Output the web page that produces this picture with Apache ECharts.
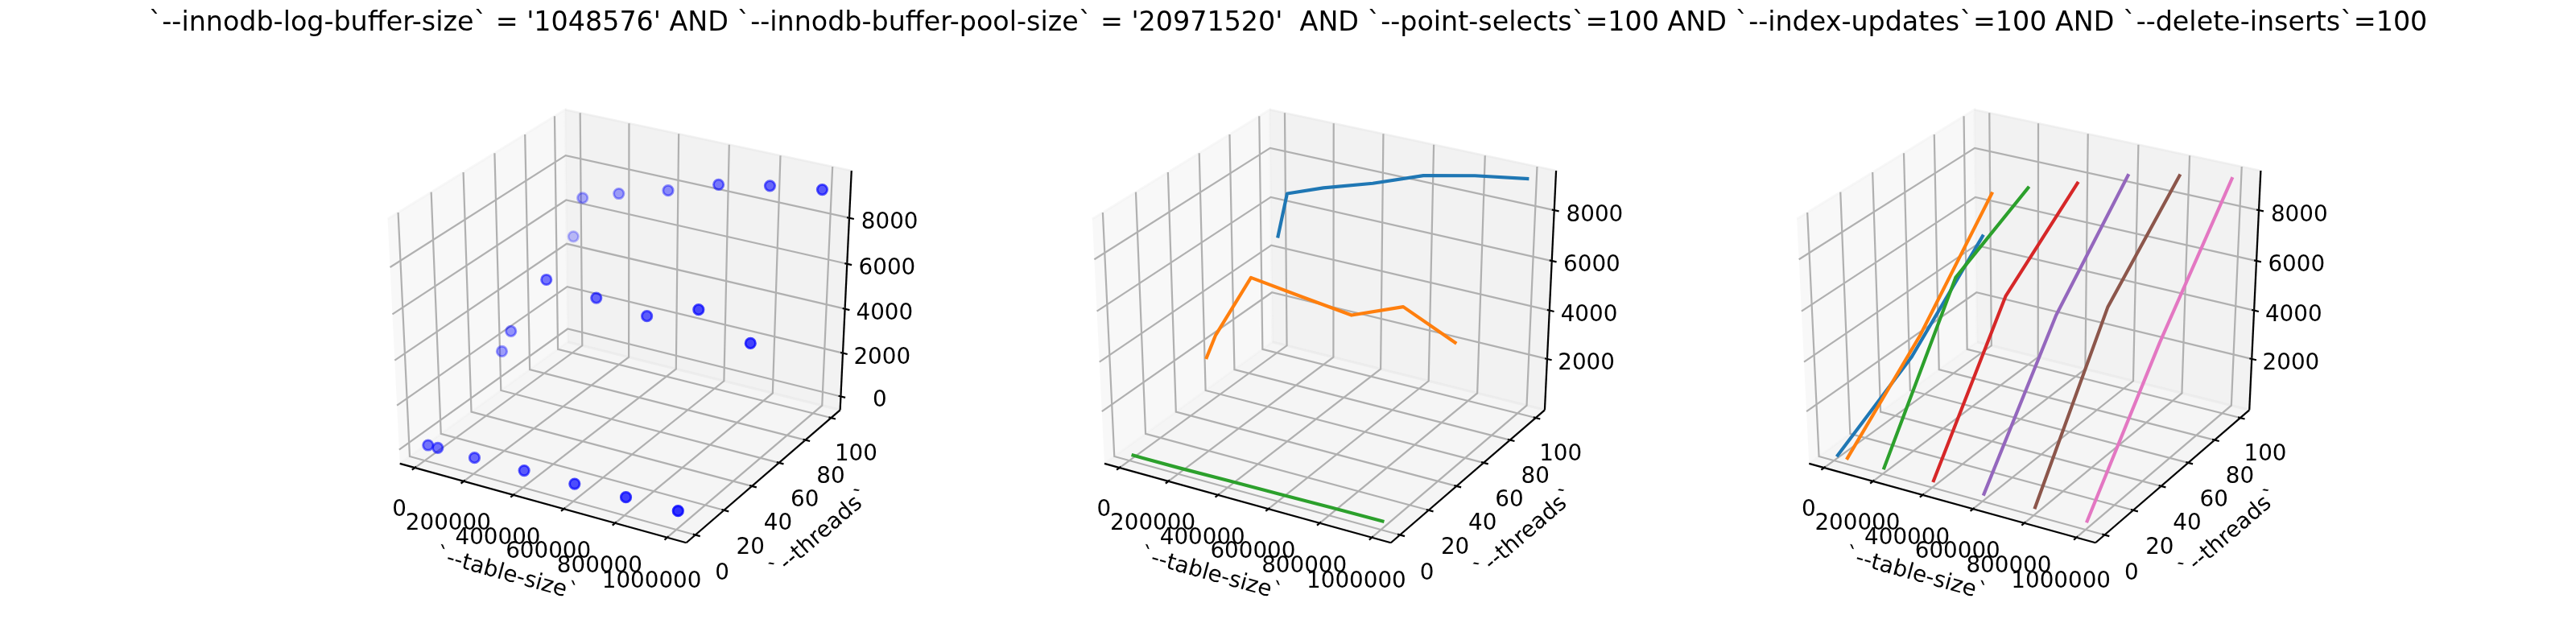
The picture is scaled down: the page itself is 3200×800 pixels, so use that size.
<!DOCTYPE html>
<html>
<head>
<meta charset="utf-8">
<title>sysbench 3d</title>
<script src="https://cdn.jsdelivr.net/npm/echarts@6/dist/echarts.min.js"></script>
<style>
  html, body { margin: 0; padding: 0; background: #ffffff; }
  #chart { width: 3200px; height: 800px; }
</style>
</head>
<body>
<div id="chart"></div>
<script>
// ---- data ----
var tableSizes = [10000, 50000, 200000, 400000, 600000, 800000, 1000000];
var threadCounts = [100, 50, 1];
var zAt100Threads = [4830, 6670, 7230, 7850, 8590, 9020, 9340];
var zAt50Threads = [1880, 2910, 5610, 5340, 5080, 5900, 4990];
var zAt1Thread = [50, 45, 50, 85, 105, 130, 150];
var zRows = [zAt100Threads, zAt50Threads, zAt1Thread];

var tableTicks = [0, 200000, 400000, 600000, 800000, 1000000];
var threadTicks = [0, 20, 40, 60, 80, 100];
var zTicks = [0, 2000, 4000, 6000, 8000];

var lineColors = ['#1f77b4', '#ff7f0e', '#2ca02c', '#d62728', '#9467bd', '#8c564b', '#e377c2'];
var suptitle = "`--innodb-log-buffer-size` = '1048576' AND `--innodb-buffer-pool-size` = '20971520'  AND `--point-selects`=100 AND `--index-updates`=100 AND `--delete-inserts`=100";

// ---- figure layout (16x4 in at 200 dpi, 1x3 subplots) ----
var PT = 200 / 72;
var FS = 10 * PT;
var FONT = FS + 'px "DejaVu Sans"';
var cellW = 0.775 * 3200 / 3.4;
var cellLefts = [0, 1, 2].map(function (k) { return 400 + k * 1.2 * cellW; });
var axTop = 96, axH = 616;

// ---- small 3d helpers (same view as the default 3d axes: elev 30, azim -60) ----
function sub(a, b) { return [a[0] - b[0], a[1] - b[1], a[2] - b[2]]; }
function dot(a, b) { return a[0] * b[0] + a[1] * b[1] + a[2] * b[2]; }
function cross(a, b) { return [a[1] * b[2] - a[2] * b[1], a[2] * b[0] - a[0] * b[2], a[0] * b[1] - a[1] * b[0]]; }
function unit(a) { var m = Math.sqrt(dot(a, a)); return [a[0] / m, a[1] / m, a[2] / m]; }

function makeProjection(lo, hi) {
    var elev = 30 * Math.PI / 180, azim = -60 * Math.PI / 180, dist = 10;
    var R = [0.5, 0.5, 0.5];
    var E = [R[0] + Math.cos(azim) * Math.cos(elev) * dist,
             R[1] + Math.sin(azim) * Math.cos(elev) * dist,
             R[2] + Math.sin(elev) * dist];
    var n = unit(sub(E, R)), u = unit(cross([0, 0, 1], n)), v = cross(n, u);
    return function (p) {
        var w = [0, 1, 2].map(function (i) { return (p[i] - lo[i]) / (hi[i] - lo[i]); });
        var d = sub(w, E);
        var zv = dot(n, d);
        return [dot(u, d) / -zv, dot(v, d) / -zv, 10 / zv];
    };
}

function limits(vals, margin) {
    var a = Math.min.apply(null, vals), b = Math.max.apply(null, vals), d = (b - a) * margin;
    return [a - d, b + d];
}

function moveFromCenter(c, centers, deltas, mask) {
    c = c.slice();
    for (var i = 0; i < 3; i++) {
        if (!mask[i]) continue;
        c[i] += (c[i] < centers[i]) ? -deltas[i] : deltas[i];
    }
    return c;
}

var AXES = [
    {i: 0, tickdir: 1, juggled: [1, 0, 2], shade: 0.95, label: '`--table-size`', ticks: tableTicks},
    {i: 1, tickdir: 0, juggled: [0, 1, 2], shade: 0.90, label: '`--threads`', ticks: threadTicks},
    {i: 2, tickdir: 0, juggled: [0, 2, 1], shade: 0.925, label: '', ticks: zTicks}
];
var PLANES = [[0, 3, 7, 4], [1, 2, 6, 5], [0, 1, 5, 4], [3, 2, 6, 7], [0, 1, 2, 3], [4, 5, 6, 7]];

// panes, axis lines, grid, ticks and labels of one 3d box, in projected coords
function boxDecor(lo, hi, proj) {
    var centers = [], deltas = [], mins = [], maxs = [], i;
    for (i = 0; i < 3; i++) {
        centers[i] = (lo[i] + hi[i]) / 2;
        deltas[i] = (hi[i] - lo[i]) / 12;
        mins[i] = lo[i] - deltas[i] / 4;
        maxs[i] = hi[i] + deltas[i] / 4;
    }
    var cube = [
        [mins[0], mins[1], mins[2]], [maxs[0], mins[1], mins[2]],
        [maxs[0], maxs[1], mins[2]], [mins[0], maxs[1], mins[2]],
        [mins[0], mins[1], maxs[2]], [maxs[0], mins[1], maxs[2]],
        [maxs[0], maxs[1], maxs[2]], [mins[0], maxs[1], maxs[2]]
    ];
    var tc = cube.map(proj);
    var avgz = PLANES.map(function (pl) {
        return pl.reduce(function (s, p) { return s + tc[p][2]; }, 0);
    });
    var highs = [0, 1, 2].map(function (k) { return avgz[2 * k] < avgz[2 * k + 1]; });
    var minmax = [0, 1, 2].map(function (k) { return highs[k] ? maxs[k] : mins[k]; });
    var maxmin = [0, 1, 2].map(function (k) { return highs[k] ? mins[k] : maxs[k]; });
    var dpp = 48 / ((cellW + axH) * 72 / 200);
    var items = [];

    AXES.forEach(function (ax) {
        var g = Math.round(ax.shade * 255);
        var col = 'rgba(' + g + ',' + g + ',' + g + ',0.5)';
        var plane = highs[ax.i] ? PLANES[2 * ax.i + 1] : PLANES[2 * ax.i];
        var pts = plane.map(function (p) { return tc[p]; });
        items.push({kind: 'fill', pts: pts, color: col});
        items.push({kind: 'path', pts: pts, color: col, width: 1 * PT});
    });

    AXES.forEach(function (ax) {
        var idx = ax.i;
        var e1 = minmax.slice();
        e1[ax.juggled[0]] = maxmin[ax.juggled[0]];
        var e2 = e1.slice();
        e2[ax.juggled[1]] = maxmin[ax.juggled[1]];
        var p1 = proj(e1), p2 = proj(e2);
        items.push({kind: 'path', pts: [p1, p2], color: '#000000', width: 0.8 * PT});

        var mask = [true, true, true];
        mask[idx] = false;
        if (ax.label) {
            var mid = [0, 1, 2].map(function (k) { return (e1[k] + e2[k]) / 2; });
            var ld = deltas.map(function (d) { return 25 * dpp * d; });
            var lp = proj(moveFromCenter(mid, centers, ld, mask));
            var ang = Math.atan2((p2[1] - p1[1]) * axH, (p2[0] - p1[0]) * cellW) * 180 / Math.PI;
            ang = (ang + 180) % 180;
            if (ang > 90) ang -= 180;
            items.push({kind: 'text', pts: [lp], text: ax.label, rot: ang * Math.PI / 180, va: 'middle'});
        }

        var ticks = ax.ticks.filter(function (t) { return t >= lo[idx] && t <= hi[idx]; });
        ticks.forEach(function (t) {
            var xyz0 = minmax.slice();
            xyz0[idx] = t;
            var xyz1 = xyz0.slice(), n1 = (idx + 1) % 3;
            xyz1[n1] = (xyz0[n1] === mins[n1]) ? maxs[n1] : mins[n1];
            var xyz2 = xyz0.slice(), n2 = (idx + 2) % 3;
            xyz2[n2] = (xyz0[n2] === mins[n2]) ? maxs[n2] : mins[n2];
            items.push({kind: 'path', pts: [proj(xyz1), proj(xyz0), proj(xyz2)], color: '#b0b0b0', width: 0.8 * PT});
        });

        var td = ax.tickdir, tdelta = deltas[td], sign = highs[td] ? 1 : -1;
        var tld = deltas.map(function (d) { return (3.5 + 8) * dpp * d; });
        ticks.forEach(function (t) {
            var pos = e1.slice();
            pos[idx] = t;
            pos[td] = e1[td] + 0.1 * sign * tdelta;
            var q1 = proj(pos);
            pos[td] = e1[td] - 0.2 * sign * tdelta;
            var q2 = proj(pos);
            pos[td] = e1[td];
            var lp = proj(moveFromCenter(pos, centers, tld, mask));
            items.push({kind: 'path', pts: [q1, q2], color: '#000000', width: 0.8 * PT});
            items.push({kind: 'text', pts: [lp], text: String(t), rot: 0, va: 'top'});
        });
    });
    return items;
}

function renderDecor(items) {
    return function (params, api) {
        var d = items[params.dataIndex];
        var pts = d.pts.map(function (p) { return api.coord([p[0], p[1]]); });
        if (d.kind === 'fill') {
            return {type: 'polygon', silent: true, shape: {points: pts}, style: {fill: d.color, stroke: null}};
        }
        if (d.kind === 'path') {
            return {type: 'polyline', silent: true, shape: {points: pts},
                    style: {stroke: d.color, lineWidth: d.width, fill: null, lineCap: 'butt'}};
        }
        return {
            type: 'text', silent: true, x: pts[0][0], y: pts[0][1], rotation: d.rot,
            style: {
                text: d.text, x: 0, y: -0.085 * FS, fill: '#000000', font: FONT,
                textAlign: 'center', textVerticalAlign: d.va, align: 'center', verticalAlign: d.va
            }
        };
    };
}

var option = {
    animation: false,
    backgroundColor: '#ffffff',
    title: {
        text: suptitle,
        left: 'center',
        top: 13,
        padding: 0,
        textStyle: {fontFamily: 'DejaVu Sans', fontSize: 12 * PT, fontWeight: 'normal', color: '#000000'}
    },
    grid: [], xAxis: [], yAxis: [], series: []
};

var allZ = zAt100Threads.concat(zAt50Threads, zAt1Thread);

function addPanel(k, zMargin) {
    var lx = limits(tableSizes, 0.05), ly = limits(threadCounts, 0.05), lz = limits(allZ, zMargin);
    var lo = [lx[0], ly[0], lz[0]], hi = [lx[1], ly[1], lz[1]];
    var proj = makeProjection(lo, hi);
    option.grid.push({left: cellLefts[k], top: axTop, width: cellW, height: axH});
    option.xAxis.push({type: 'value', gridIndex: k, min: -0.095, max: 0.09, show: false});
    option.yAxis.push({type: 'value', gridIndex: k, min: -0.095, max: 0.09, show: false});
    var items = boxDecor(lo, hi, proj);
    option.series.push({
        type: 'custom', xAxisIndex: k, yAxisIndex: k, z: 2, silent: true, clip: false,
        renderItem: renderDecor(items),
        data: items.map(function () { return [0, 0]; })
    });
    return proj;
}

// left: scatter of every run, depth shaded
var proj0 = addPanel(0, 0.05);
var pts0 = [];
threadCounts.forEach(function (th, r) {
    tableSizes.forEach(function (ts, c) {
        pts0.push(proj0([ts, th, zRows[r][c]]));
    });
});
var depths = pts0.map(function (p) { return p[2]; });
var dMin = Math.min.apply(null, depths), dMax = Math.max.apply(null, depths);
option.series.push({
    type: 'scatter', xAxisIndex: 0, yAxisIndex: 0, z: 3, silent: true, clip: false,
    symbol: 'circle', symbolSize: Math.sqrt(20) * PT,
    data: pts0.map(function (p) {
        var a = 1 - 0.7 * (p[2] - dMin) / (dMax - dMin);
        var c = 'rgba(0,0,255,' + a.toFixed(3) + ')';
        return {value: [p[0], p[1]], itemStyle: {color: c, borderColor: c, borderWidth: 1 * PT}};
    })
});

// middle: one line per thread count along table size
var proj1 = addPanel(1, 0);
threadCounts.forEach(function (th, r) {
    option.series.push({
        type: 'line', xAxisIndex: 1, yAxisIndex: 1, z: 3, silent: true, clip: false,
        symbol: 'none', showSymbol: false,
        lineStyle: {color: lineColors[r], width: 1.5 * PT, cap: 'square', join: 'round'},
        data: tableSizes.map(function (ts, c) { var p = proj1([ts, th, zRows[r][c]]); return [p[0], p[1]]; })
    });
});

// right: one line per table size along threads
var proj2 = addPanel(2, 0);
tableSizes.forEach(function (ts, c) {
    option.series.push({
        type: 'line', xAxisIndex: 2, yAxisIndex: 2, z: 3, silent: true, clip: false,
        symbol: 'none', showSymbol: false,
        lineStyle: {color: lineColors[c], width: 1.5 * PT, cap: 'square', join: 'round'},
        data: threadCounts.map(function (th, r) { var p = proj2([ts, th, zRows[r][c]]); return [p[0], p[1]]; })
    });
});

var myChart = echarts.init(document.getElementById('chart'), null, {renderer: 'canvas'});
myChart.setOption(option);
window.addEventListener('resize', function () { myChart.resize(); });
</script>
</body>
</html>
